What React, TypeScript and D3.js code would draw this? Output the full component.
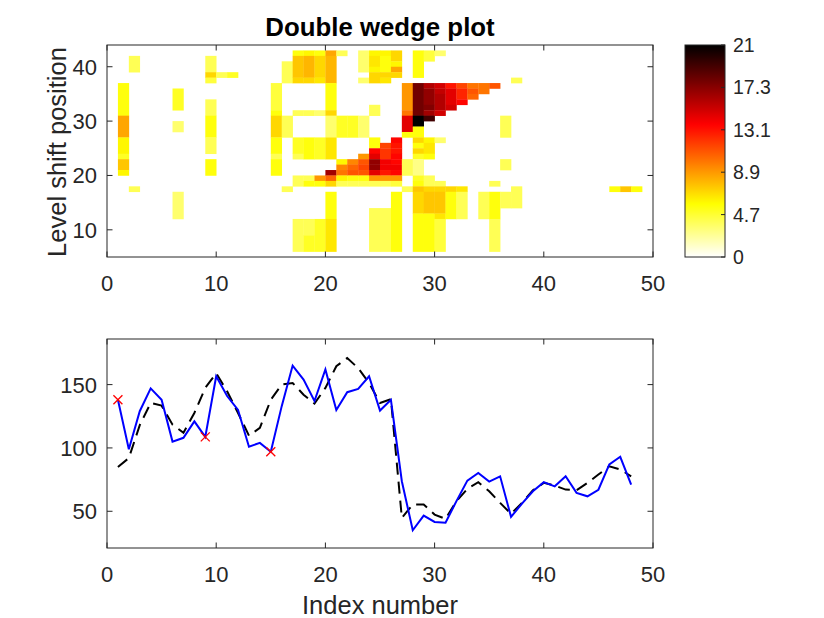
import React from "react";
import * as d3 from "d3";

// [index, fromRow, toRow, value] : runs of equal cells in the wedge matrix
const wedgeCells: [number, number, number, number][] = [
  [1, 31, 36, 5], [1, 27, 30, 8], [1, 24, 26, 5.5], [1, 23, 23, 4.5], [1, 21, 22, 7], [1, 20, 20, 5.5],
  [2, 39, 41, 3.5], [2, 17, 17, 3.5],
  [6, 32, 35, 4.5], [6, 28, 29, 3], [6, 12, 16, 3],
  [9, 39, 41, 3.5], [9, 38, 38, 6.5], [9, 37, 37, 4], [9, 31, 33, 3.5], [9, 27, 30, 5], [9, 24, 26, 3.5], [9, 20, 22, 5],
  [10, 38, 38, 3.5], [11, 38, 38, 4.5],
  [15, 32, 36, 4], [15, 31, 31, 5], [15, 27, 30, 6.5], [15, 24, 26, 5], [15, 23, 23, 3.5], [15, 20, 22, 5],
  [16, 37, 40, 3.5], [16, 27, 30, 3.5], [16, 17, 17, 3.5],
  [17, 42, 42, 5], [17, 38, 41, 7], [17, 37, 37, 6.5], [17, 31, 31, 3.5], [17, 24, 26, 4.5], [17, 23, 23, 3.5], [17, 18, 19, 3.5], [17, 6, 11, 3.5],
  [18, 42, 42, 5.5], [18, 38, 41, 7.5], [18, 37, 37, 6.5], [18, 31, 31, 3.5], [18, 23, 26, 5], [18, 19, 19, 3.5], [18, 18, 18, 5], [18, 9, 11, 3.5], [18, 6, 8, 4.5],
  [19, 42, 42, 5], [19, 38, 41, 6.5], [19, 37, 37, 6], [19, 31, 31, 3], [19, 23, 26, 4.5], [19, 19, 19, 8.5], [19, 18, 18, 5], [19, 6, 11, 4.5],
  [20, 42, 42, 8], [20, 37, 41, 7.5], [20, 32, 36, 5], [20, 31, 31, 6.5], [20, 27, 30, 3], [20, 23, 26, 6], [20, 20, 20, 16], [20, 19, 19, 10], [20, 18, 18, 6.5], [20, 12, 16, 5], [20, 6, 11, 6],
  [21, 42, 42, 3.5], [21, 27, 30, 4.5], [21, 22, 22, 5.5], [21, 21, 21, 9], [21, 20, 20, 9.5], [21, 19, 19, 5.5], [21, 18, 18, 3.5],
  [22, 27, 30, 4.5], [22, 22, 22, 9], [22, 21, 21, 10], [22, 20, 20, 10.5], [22, 19, 19, 5], [22, 18, 18, 3.5],
  [23, 39, 42, 3], [23, 37, 37, 3], [23, 27, 30, 3], [23, 23, 23, 8.5], [23, 22, 22, 10.5], [23, 21, 21, 11], [23, 20, 20, 10.5], [23, 19, 19, 5], [23, 18, 18, 3.5],
  [24, 42, 42, 5.5], [24, 40, 41, 6], [24, 39, 39, 5.5], [24, 37, 38, 6.5], [24, 31, 32, 3.5], [24, 25, 26, 5], [24, 24, 24, 13], [24, 23, 23, 14], [24, 22, 22, 16.5], [24, 21, 21, 16.5], [24, 20, 20, 14], [24, 19, 19, 8.5], [24, 18, 18, 3.5], [24, 6, 13, 3.5],
  [25, 42, 42, 5.5], [25, 39, 41, 5], [25, 38, 38, 6.5], [25, 37, 37, 6], [25, 25, 25, 11], [25, 24, 24, 11.5], [25, 23, 23, 11.5], [25, 22, 22, 13.5], [25, 21, 21, 13.5], [25, 20, 20, 12.5], [25, 19, 19, 8.5], [25, 18, 18, 3.5], [25, 6, 13, 3.5],
  [26, 42, 42, 6.5], [26, 41, 41, 6.5], [26, 40, 40, 5.5], [26, 39, 39, 8], [26, 38, 38, 6.5], [26, 26, 26, 13], [26, 25, 25, 12.5], [26, 24, 24, 12.5], [26, 23, 23, 13], [26, 22, 22, 13], [26, 21, 21, 13.5], [26, 20, 20, 13], [26, 19, 19, 8.5], [26, 18, 18, 4], [26, 6, 16, 5],
  [27, 32, 36, 8.5], [27, 31, 31, 9.5], [27, 28, 30, 14], [27, 27, 27, 5], [27, 20, 22, 3.5], [27, 17, 17, 3.5],
  [28, 38, 42, 5], [28, 31, 36, 17.5], [28, 29, 30, 21], [28, 27, 28, 5], [28, 26, 26, 6.5], [28, 25, 25, 5], [28, 24, 24, 6.5], [28, 23, 23, 4.5], [28, 20, 22, 2.5], [28, 19, 19, 4.5], [28, 18, 18, 5], [28, 17, 17, 7], [28, 13, 16, 6.5], [28, 6, 12, 5],
  [29, 41, 42, 4], [29, 36, 36, 15.5], [29, 33, 35, 16.5], [29, 32, 32, 17], [29, 31, 31, 16], [29, 30, 30, 19], [29, 26, 26, 5.5], [29, 24, 25, 6], [29, 23, 23, 5], [29, 18, 19, 3.5], [29, 17, 17, 6.5], [29, 13, 16, 7], [29, 6, 12, 5],
  [30, 42, 42, 3], [30, 36, 36, 14.5], [30, 35, 35, 15], [30, 32, 34, 15.5], [30, 31, 31, 14.5], [30, 26, 26, 3], [30, 18, 18, 3.5], [30, 17, 17, 6.5], [30, 13, 16, 7], [30, 12, 12, 6], [30, 6, 11, 4],
  [31, 36, 36, 12.5], [31, 33, 35, 14], [31, 32, 32, 14.5], [31, 17, 17, 6.5], [31, 12, 16, 5],
  [32, 36, 36, 11], [32, 34, 35, 12], [32, 33, 33, 13], [32, 17, 17, 6], [32, 12, 16, 3.5],
  [33, 36, 36, 9.5], [33, 35, 35, 10.5], [33, 34, 34, 10],
  [34, 35, 36, 9.5], [34, 12, 16, 3.5],
  [35, 36, 36, 10.5], [35, 18, 18, 3.5], [35, 12, 16, 5], [35, 6, 11, 3.5],
  [36, 27, 30, 3.5], [36, 21, 22, 3.5], [36, 14, 16, 3.5],
  [37, 37, 37, 3.5], [37, 14, 17, 3.5],
  [46, 17, 17, 5], [47, 17, 17, 7], [48, 17, 17, 5],
];

const observed = [
  138, 99, 129, 147, 138, 105, 108, 121, 108.7, 156.6, 141, 130, 101, 104, 97, 133,
  165, 154, 137, 162, 130, 144, 146.6, 156.6, 129.5, 138, 73.7, 35, 46.6, 41.6, 41, 58,
  74.2, 80.3, 73.4, 77.6, 45.6, 56, 65.8, 73, 69.7, 77.6, 64.5, 61.8, 67, 87, 93, 71,
];
const fitted = [
  85, 92, 118, 135.5, 133.4, 118.4, 112, 127.6, 147.4, 159, 144.7, 127.6, 109.7, 115.8, 138, 150,
  151.3, 142, 135, 147.4, 164.5, 171, 163, 151.3, 135.5, 138.5, 44.8, 55.3, 55.3, 47.4, 44, 58,
  67.7, 72.9, 65.8, 56.6, 48, 56.6, 66.6, 72.4, 70.3, 67.1, 66.6, 72.4, 79, 85.5, 83, 77.6,
];
const outliers = [1, 9, 15];

const indexTicks = [0, 10, 20, 30, 40, 50];
const shiftTicks = [10, 20, 30, 40];
const seriesTicks = [50, 100, 150];
const cbTickLabels = ["0", "4.7", "8.9", "13.1", "17.3", "21"];
const cMax = 21;

const FONT = "'Liberation Sans', Arial, Helvetica, sans-serif";
const AX = "#262626";

// flipped MATLAB "hot"
function hotFlip(v: number) {
  const t = 1 - Math.max(0, Math.min(1, v / cMax));
  const cl = (a: number) => Math.max(0, Math.min(1, a));
  const r = cl(t / 0.375);
  const g = cl((t - 0.375) / 0.375);
  const b = cl((t - 0.75) / 0.25);
  return d3.rgb(r * 255, g * 255, b * 255).formatHex();
}

function Frame({ x, y, xt, yt, tick = 5.5, fs = 22 }: any) {
  const [x0, x1] = x.range();
  const [y0, y1] = y.range();
  return (
    <g>
      <rect x={x0} y={y1} width={x1 - x0} height={y0 - y1} fill="none" stroke={AX} strokeWidth={1} />
      {xt.map((t: number) => (
        <g key={"x" + t}>
          <line x1={x(t)} x2={x(t)} y1={y0} y2={y0 - tick} stroke={AX} />
          <line x1={x(t)} x2={x(t)} y1={y1} y2={y1 + tick} stroke={AX} />
          <text x={x(t)} y={y0 + 34} textAnchor="middle" fontSize={fs} fill={AX} fontFamily={FONT}>
            {t}
          </text>
        </g>
      ))}
      {yt.map((t: number) => (
        <g key={"y" + t}>
          <line x1={x0} x2={x0 + tick} y1={y(t)} y2={y(t)} stroke={AX} />
          <line x1={x1} x2={x1 - tick} y1={y(t)} y2={y(t)} stroke={AX} />
          <text x={x0 - 10} y={y(t) + 8} textAnchor="end" fontSize={fs} fill={AX} fontFamily={FONT}>
            {t}
          </text>
        </g>
      ))}
    </g>
  );
}

export default function App() {
  const xTop = d3.scaleLinear().domain([0, 50]).range([107, 653]);
  const yTop = d3.scaleLinear().domain([5, 44]).range([257, 45]);
  const xBot = d3.scaleLinear().domain([0, 50]).range([107, 653]);
  const yBot = d3.scaleLinear().domain([21, 186]).range([548, 339]);
  const cScale = d3.scaleLinear().domain([0, cMax]).range([257, 45]);
  const cbTicks = d3.range(6).map((k) => (k * cMax) / 5);

  const line = d3
    .line<number>()
    .x((_, i) => xBot(i + 1))
    .y((d) => yBot(d));

  const stops = d3.range(0, cMax + 0.01, 0.25);

  return (
    <svg width={824} height={618} style={{ position: "absolute", left: 0, top: 0, background: "#fff" }}>
      <defs>
        <linearGradient id="cbar" x1="0" y1="1" x2="0" y2="0">
          {stops.map((s) => (
            <stop key={s} offset={s / cMax} stopColor={hotFlip(s)} />
          ))}
        </linearGradient>
      </defs>

      {/* wedge heat map */}
      <g>
        {wedgeCells.map(([c, r0, r1, v], i) => (
          <rect
            key={i}
            x={xTop(c)}
            y={yTop(r1 + 1)}
            width={xTop(c + 1) - xTop(c) + 0.3}
            height={yTop(r0) - yTop(r1 + 1) + 0.3}
            fill={hotFlip(v)}
          />
        ))}
      </g>
      <Frame x={xTop} y={yTop} xt={indexTicks} yt={shiftTicks} />
      <text x={380} y={36} textAnchor="middle" fontSize={25.8} fontWeight="bold" fill="#000" fontFamily={FONT}>
        Double wedge plot
      </text>
      <text
        transform={`translate(66,${(45 + 257) / 2 + 1}) rotate(-90)`}
        textAnchor="middle"
        fontSize={25.5}
        fill={AX}
        fontFamily={FONT}
      >
        Level shift position
      </text>

      {/* colorbar */}
      <rect x={685} y={45} width={40} height={212} fill="url(#cbar)" stroke={AX} strokeWidth={1} />
      {cbTicks.map((t, k) => (
        <g key={k}>
          <line x1={725} x2={721} y1={cScale(t)} y2={cScale(t)} stroke={AX} />
          <text x={733} y={cScale(t) + 7} fontSize={19.5} fill={AX} fontFamily={FONT}>
            {cbTickLabels[k]}
          </text>
        </g>
      ))}

      {/* series */}
      <path d={line(fitted) || ""} fill="none" stroke="#000" strokeWidth={2} strokeDasharray="12,7" />
      <path d={line(observed) || ""} fill="none" stroke="#0000ff" strokeWidth={2} />
      {outliers.map((k) => {
        const cx = xBot(k);
        const cy = yBot(observed[k - 1]);
        return (
          <g key={k} stroke="#ff0000" strokeWidth={1.3}>
            <line x1={cx - 4.5} x2={cx + 4.5} y1={cy - 4.5} y2={cy + 4.5} />
            <line x1={cx - 4.5} x2={cx + 4.5} y1={cy + 4.5} y2={cy - 4.5} />
          </g>
        );
      })}
      <Frame x={xBot} y={yBot} xt={indexTicks} yt={seriesTicks} />
      <text x={380} y={614} textAnchor="middle" fontSize={25.5} fill={AX} fontFamily={FONT}>
        Index number
      </text>
    </svg>
  );
}
